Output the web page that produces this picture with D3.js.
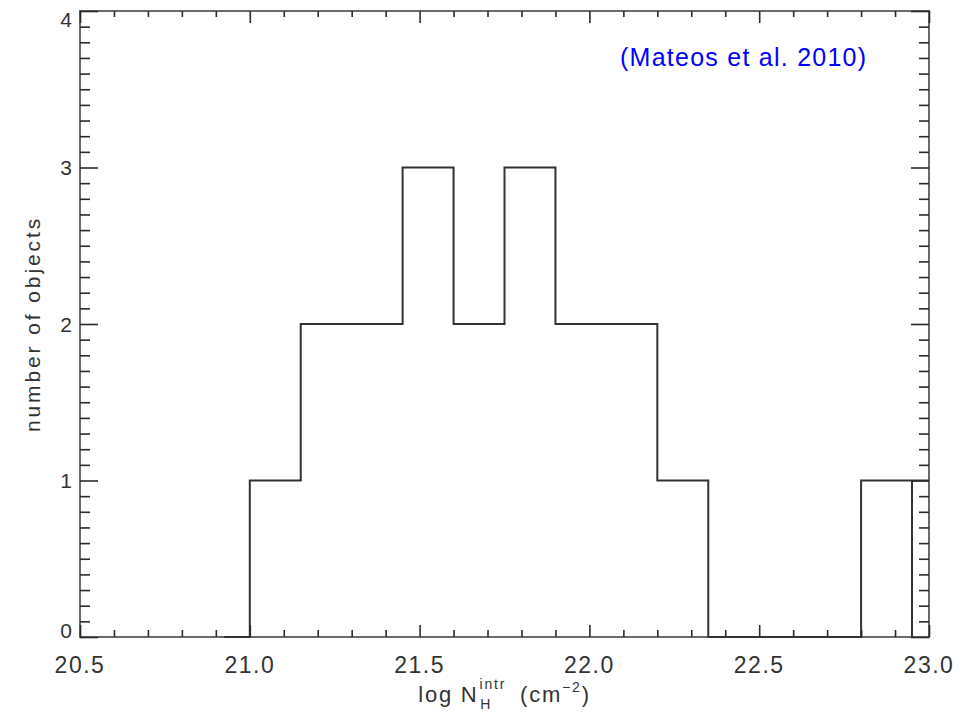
<!DOCTYPE html>
<html>
<head>
<meta charset="utf-8">
<script src="https://cdn.jsdelivr.net/npm/d3@7.9.0/dist/d3.min.js"></script>
<style>
  body { margin: 0; background: #fff; }
  svg { display: block; font-family: "Liberation Sans", Arial, sans-serif; }
</style>
</head>
<body>
<svg id="chart" width="975" height="712"></svg>
<script>
// histogram bins (lower edge, width 0.15) and counts
const binLo = [20.85, 21.00, 21.15, 21.30, 21.45, 21.60, 21.75, 21.90, 22.05, 22.20, 22.35, 22.50, 22.65, 22.80, 22.95];
const counts = [0, 1, 2, 2, 3, 2, 3, 2, 2, 1, 0, 0, 0, 1, 1];
const binWidth = 0.15;
// extra edge drawn down to zero
const extraEdges = [22.95];

const xMajor = [20.5, 21.0, 21.5, 22.0, 22.5, 23.0];
const yMajor = [0, 1, 2, 3, 4];

const width = 975, height = 712;
const margin = { top: 11, right: 46, bottom: 75, left: 80 };

const svg = d3.select('#chart');

const x = d3.scaleLinear().domain([20.5, 23.0]).range([margin.left, width - margin.right]);
const y = d3.scaleLinear().domain([0, 4]).range([height - margin.bottom, margin.top]);

const xMinor = d3.range(20.5, 23.0001, 0.1).map((d) => +d.toFixed(2)).filter((d) => !xMajor.some((m) => Math.abs(m - d) < 1e-6));
const yMinor = d3.range(0, 4.0001, 0.1).map((d) => +d.toFixed(2)).filter((d) => !yMajor.includes(d));

const plotBottom = height - margin.bottom, plotTop = margin.top;
const plotLeft = margin.left, plotRight = width - margin.right;

// frame
svg.append('rect')
  .attr('x', plotLeft).attr('y', plotTop)
  .attr('width', plotRight - plotLeft).attr('height', plotBottom - plotTop)
  .attr('fill', 'none')
  .attr('stroke', '#6a6a6a')
  .attr('stroke-width', 2);

svg.append('clipPath').attr('id', 'clip')
  .append('rect')
  .attr('x', plotLeft - 10).attr('y', plotTop - 2)
  .attr('width', plotRight - plotLeft + 10)
  .attr('height', plotBottom - plotTop + 4);

// histogram, step style (steps at bin edges between centres)
let data = binLo.map((lo, i) => ({ c: lo + binWidth / 2, n: counts[i] }));
let stepLine = d3.line().x((d) => Math.min(x(d.c), plotRight)).y((d) => y(d.n)).curve(d3.curveStep);

let hist = svg.append('g').attr('clip-path', 'url(#clip)');
hist.append('path')
  .attr('d', stepLine(data))
  .attr('fill', 'none')
  .attr('stroke', '#333')
  .attr('stroke-width', 2);

extraEdges.forEach((e) => {
  let i = binLo.findIndex((b) => Math.abs(b - e) < 1e-6);
  hist.append('line')
    .attr('x1', x(e)).attr('x2', x(e))
    .attr('y1', y(0)).attr('y2', y(counts[i]))
    .attr('stroke', '#333')
    .attr('stroke-width', 2);
});

// ticks (inward) on all four sides
function ticks(axis, values, size, pos) {
  svg.append('g')
    .attr('transform', pos)
    .call(axis.tickValues(values).tickSize(size).tickFormat(''))
    .call((g) => g.select('.domain').remove())
    .call((g) => g.selectAll('line').attr('stroke', '#2a2a2a').attr('stroke-width', 1.6));
}

ticks(d3.axisBottom(x), xMinor, -7, `translate(0,${plotBottom})`);
ticks(d3.axisBottom(x), xMajor, -12, `translate(0,${plotBottom})`);
ticks(d3.axisTop(x), xMinor, -6, `translate(0,${plotTop})`);
ticks(d3.axisTop(x), xMajor, -12, `translate(0,${plotTop})`);
ticks(d3.axisLeft(y), yMinor, -10, `translate(${plotLeft},0)`);
ticks(d3.axisLeft(y), yMajor, -18, `translate(${plotLeft},0)`);
ticks(d3.axisRight(y), yMinor, -10, `translate(${plotRight},0)`);
ticks(d3.axisRight(y), yMajor, -18, `translate(${plotRight},0)`);

// tick labels
svg.append('g').selectAll('text')
  .data(xMajor)
  .join('text')
  .attr('x', (d) => x(d))
  .attr('y', 673)
  .attr('text-anchor', 'middle')
  .attr('font-size', 23)
  .attr('letter-spacing', 1.5)
  .attr('fill', '#333')
  .text((d) => d.toFixed(1));

svg.append('g').selectAll('text')
  .data(yMajor)
  .join('text')
  .attr('x', 72)
  .attr('y', (d) => Math.min(Math.max(y(d), 19.5), 630))
  .attr('dy', '0.36em')
  .attr('text-anchor', 'end')
  .attr('font-size', 21)
  .attr('fill', '#333')
  .text((d) => d);

// axis titles
let xt = svg.append('text')
  .attr('x', x(21.75))
  .attr('y', 702)
  .attr('text-anchor', 'middle')
  .attr('font-size', 22)
  .attr('letter-spacing', 1.8)
  .attr('fill', '#333');
xt.append('tspan').text('log  N');
xt.append('tspan').attr('font-size', 14).attr('dx', 1).attr('dy', -13).text('intr');
xt.append('tspan').attr('font-size', 14).attr('dx', -26).attr('dy', 20).text('H');
xt.append('tspan').attr('dx', 20).attr('dy', -7).text(' (cm');
xt.append('tspan').attr('font-size', 14).attr('dy', -10).text('−2');
xt.append('tspan').attr('dy', 10).text(')');

svg.append('text')
  .attr('transform', `translate(40,${(plotTop + plotBottom) / 2}) rotate(-90)`)
  .attr('text-anchor', 'middle')
  .attr('font-size', 21)
  .attr('letter-spacing', 2.9)
  .attr('fill', '#333')
  .text('number of objects');

svg.append('text')
  .attr('x', 620)
  .attr('y', 66)
  .attr('font-size', 25)
  .attr('letter-spacing', 1.25)
  .attr('fill', '#0000ff')
  .text('(Mateos et al. 2010)');
</script>
</body>
</html>
